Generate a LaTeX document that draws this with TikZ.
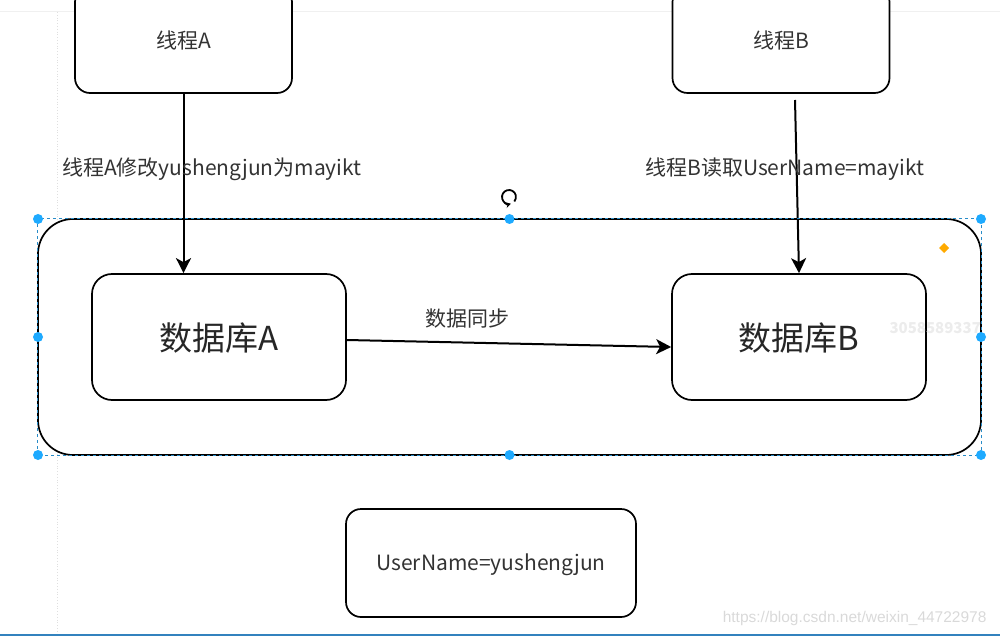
\documentclass[tikz,border=0pt]{standalone}
\usepackage{fontspec}
\setmainfont{Noto Sans CJK SC}
\newfontfamily\wmfont{Liberation Sans}
\usetikzlibrary{positioning,arrows.meta,calc}
\definecolor{selblue}{RGB}{30,170,255}
\definecolor{seldash}{RGB}{40,140,200}
\definecolor{barblue}{RGB}{50,130,190}
\definecolor{hintorange}{RGB}{255,170,0}
\tikzstyle{rbox}=[rectangle, rounded corners=15pt, draw=black, line width=1.7pt, fill=white,
                  minimum width=217pt, minimum height=106pt, inner sep=0pt]
\tikzstyle{dbox}=[rectangle, rounded corners=20pt, draw=black, line width=1.7pt, fill=white,
                  minimum width=254pt, minimum height=126pt, inner sep=0pt]
\tikzstyle{gbox}=[rectangle, rounded corners=35pt, draw=black, line width=1.7pt, fill=white,
                  minimum width=943pt, minimum height=236pt, inner sep=0pt]
\tikzstyle{txt}=[font=\fontsize{21}{25}\selectfont, text=black!80, inner sep=0pt]
\tikzstyle{bigtxt}=[font=\fontsize{33}{38}\selectfont, text=black!85, inner sep=0pt]
\tikzstyle{pline}=[line width=2pt, -{Stealth[length=15pt,width=15pt,inset=4pt]}]
\tikzstyle{handle}=[circle, fill=selblue, minimum size=10pt, inner sep=0pt]

\begin{document}
\begin{tikzpicture}[x=1pt,y=-1pt]
\useasboundingbox (0,0) rectangle (1000,636);
\clip (0,0) rectangle (1000,636);

% editor background
\draw[gray!12, line width=1pt] (0,12) -- (1000,12);
\fill[gray!55] (95,0) rectangle (117,2);
\draw[gray!25, dotted, line width=0.8pt] (57,12) -- (57,636);

% threads
\node (thrA) [rbox] at (183.5,40) {};
\node (thrAtxt) [txt] at (183.5,40) {线程A};
\node (thrB) [rbox] at (781,40) {};
\node (thrBtxt) [txt] at (781,40) {线程B};

% databases
\node (grp) [gbox] at (509.5,337) {};
\node (dbA) [dbox] at (219,337) {};
\node (dbAtxt) [bigtxt] at (219,338) {数据库A};
\node (dbB) [dbox] at (799,337) {};
\node (dbBtxt) [bigtxt] at (799,338) {数据库B};

\node (user) [rbox, minimum width=290pt, minimum height=108pt] at (491,563) {};
\node (usertxt) [txt] at (491,565) {UserName=yushengjun};

% connectors
\coordinate (bstart) at (795,100);
\draw[pline] (thrA.south) -- (thrA.south |- dbA.north);
\draw[pline] (bstart) -- (dbB.north);
\draw[pline] ($(dbA.east)+(0,3)$) -- ($(dbB.west)+(0,10)$);

\node (lblA) [txt, anchor=west] at (62,169) {线程A修改yushengjun为mayikt};
\node (lblB) [txt, anchor=west] at (645,169) {线程B读取UserName=mayikt};
\node (lblSync) [txt] at (467,319) {数据同步};

% selection
\draw[seldash, dashed, line width=0.8pt] (grp.north west) rectangle (grp.south east);
\foreach \hx/\hy in {38/219,509.5/219,981/219,38/337,981/337,38/455,509.5/455,981/455}
  \node[handle] at (\hx,\hy) {};
\draw[line width=1.8pt, {Stealth[length=5pt,width=6pt]}-] (509,197) ++(75:7) arc (75:400:7);
\fill[hintorange] (944,243) -- (949,248) -- (944,253) -- (939,248) -- cycle;

% watermarks
\node (wm1) [font=\fontsize{15}{17}\selectfont\bfseries, text=gray!15, anchor=west] at (886,328) {3058589337};
\node (wm2) [font=\wmfont\fontsize{15.5}{18}\selectfont, text=gray!30, anchor=east] at (990,618) {https://blog.csdn.net/weixin\_44722978};
\draw[barblue, line width=2.5pt] (0,635) -- (1000,635);
\end{tikzpicture}
\end{document}
